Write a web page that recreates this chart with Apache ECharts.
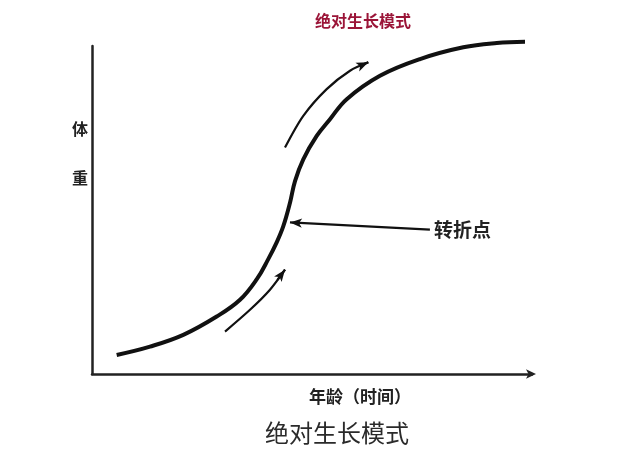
<!DOCTYPE html>
<html><head><meta charset="utf-8">
<script src="https://cdn.jsdelivr.net/npm/echarts@6/dist/echarts.min.js"></script>
<style>html,body{margin:0;padding:0;background:#fff}#c{width:621px;height:460px}</style>
</head><body><div id="c"></div>
<script>
// S-shaped growth curve (x: age/time, y: body weight), units 0..100
const curveX = [5.61, 13.18, 20.75, 28.34, 33.64, 37.5, 40.0, 42.0, 43.48, 45.0, 46.14, 48.02, 51.07, 54.09, 57.89, 65.45, 74.55, 84.39, 91.98, 98.41];
const curveY = [5.81, 8.35, 11.93, 17.52, 22.63, 29.0, 34.86, 40.2, 45.05, 52.2, 58.81, 65.44, 72.57, 77.68, 83.79, 90.92, 96.02, 99.6, 100.92, 101.3];
// upper direction arrow
const upArrowX = [43.86, 48.02, 53.34, 58.64, 62.80];
const upArrowY = [69.02, 78.69, 86.85, 92.45, 95.02];
// lower direction arrow
const lowArrowX = [30.23, 35.91, 40.45, 43.86];
const lowArrowY = [12.94, 19.57, 25.69, 31.8];
// inflection point pointer
const pointerFrom = [76.8, 44];
const pointerTo = [45, 46.2];
const pointerLabel = '转折点';
const titleText = '绝对生长模式';
const xName = '年龄（时间）';
const yNameChars = ['体', '重'];

const zip = (a, b) => a.map((v, i) => [v, b[i]]);
const n = upArrowX.length, m = lowArrowX.length;
const font = 'Noto Sans CJK SC';

const chart = echarts.init(document.getElementById('c'));
chart.setOption({
  animation: false,
  title: [
    { text: titleText, left: 358, top: 8, textAlign: 'center',
      textStyle: { color: '#9b1538', fontSize: 16, fontWeight: 'bold', fontFamily: font } },
    { text: titleText, left: 332, top: 416, textAlign: 'center',
      textStyle: { color: '#2a2a2a', fontSize: 24, fontWeight: 'normal', fontFamily: font } },
    { text: xName, left: 355, top: 383, textAlign: 'center',
      textStyle: { color: '#222', fontSize: 17, fontWeight: 'bold', fontFamily: font } },
    { text: yNameChars[0], left: 75, top: 116, textAlign: 'center',
      textStyle: { color: '#222', fontSize: 16, fontWeight: 'bold', fontFamily: font } },
    { text: yNameChars[1], left: 75, top: 165, textAlign: 'center',
      textStyle: { color: '#222', fontSize: 16, fontWeight: 'bold', fontFamily: font } }
  ],
  grid: { left: 92, right: 89, top: 46, bottom: 86 },
  xAxis: {
    type: 'value', min: 0, max: 100,
    axisLine: { show: true, symbol: ['none', 'arrow'], symbolSize: [7, 10], symbolOffset: [0, 4],
      lineStyle: { color: '#222', width: 2.5 } },
    axisTick: { show: false }, axisLabel: { show: false }, splitLine: { show: false }
  },
  yAxis: {
    type: 'value', min: 0, max: 100,
    axisLine: { show: true, lineStyle: { color: '#222', width: 2.5 } },
    axisTick: { show: false }, axisLabel: { show: false }, splitLine: { show: false }
  },
  series: [
    { type: 'line', data: zip(curveX, curveY), smooth: 0.4, showSymbol: false, clip: false,
      lineStyle: { color: '#111', width: 4 } },
    { type: 'line', data: zip(upArrowX, upArrowY), smooth: 0.3, showSymbol: false, clip: false,
      lineStyle: { color: '#111', width: 2.2 },
      markLine: { silent: true, symbol: ['none', 'arrow'], symbolSize: [7, 12], label: { show: false },
        lineStyle: { color: '#111', width: 2.2, type: 'solid' },
        data: [[{ coord: [upArrowX[n - 2] + 2.5, upArrowY[n - 2] + 1.6] }, { coord: [upArrowX[n - 1], upArrowY[n - 1]] }]] } },
    { type: 'line', data: zip(lowArrowX, lowArrowY), smooth: 0.3, showSymbol: false, clip: false,
      lineStyle: { color: '#111', width: 2.2 },
      markLine: { silent: true, symbol: ['none', 'arrow'], symbolSize: [7, 12], label: { show: false },
        lineStyle: { color: '#111', width: 2.2, type: 'solid' },
        data: [[{ coord: [lowArrowX[m - 2] + 1.7, lowArrowY[m - 2] + 3] }, { coord: [lowArrowX[m - 1], lowArrowY[m - 1]] }]] } },
    { type: 'line', data: [],
      markLine: { silent: true, symbol: ['none', 'arrow'], symbolSize: [7, 12],
        lineStyle: { color: '#111', width: 2.2, type: 'solid' },
        label: { show: true, position: 'start', formatter: pointerLabel, color: '#222', fontSize: 19,
          fontWeight: 'bold', fontFamily: font, distance: 4 },
        data: [[{ coord: pointerFrom }, { coord: pointerTo }]] } }
  ]
});
</script></body></html>
